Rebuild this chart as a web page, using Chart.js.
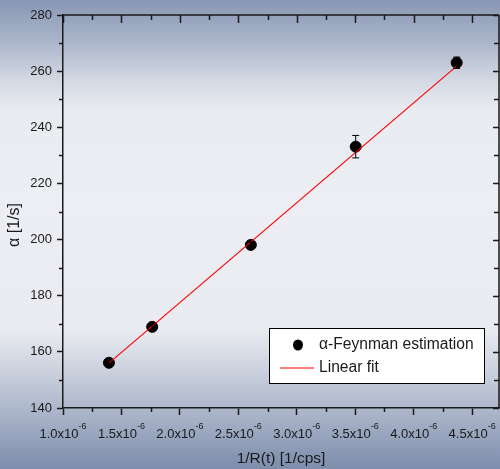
<!DOCTYPE html>
<html lang="en">
  <head>
    <meta charset="UTF-8" />
    <title>alpha-Feynman estimation vs 1/R(t)</title>
    <script src="https://cdn.jsdelivr.net/npm/chart.js"></script>
    <style>
      html,
      body {
        margin: 0;
        padding: 0;
      }
      body {
        width: 500px;
        height: 469px;
        overflow: hidden;
        background: linear-gradient(
          to bottom,
          #8897b4 0px,
          #a9b4c9 40px,
          #d3d8e3 80px,
          #e8ebf0 110px,
          #eceef3 200px,
          #e9ebf0 330px,
          #c4cbd9 380px,
          #a5b0c6 420px,
          #7c8cac 469px
        );
      }
      canvas {
        display: block;
      }
    </style>
  </head>
  <body>
    <canvas id="alphaChart" width="500" height="469"></canvas>
    <script>
      // values
      const invRate = [1.393e-6, 1.763e-6, 2.607e-6, 3.504e-6, 4.368e-6];
      const alpha = [156.1, 168.9, 198.1, 233.1, 263.0];
      const alphaErr = [1, 1, 1, 4, 2];

      // linear fit end points
      const fitX = [1.393e-6, 4.368e-6];
      const fitY = [156.0, 261.8];

      // tick labels (x in units of 1e-6)
      const xTicks = [1.0, 1.5, 2.0, 2.5, 3.0, 3.5, 4.0, 4.5];
      const yTicks = [140, 160, 180, 200, 220, 240, 260, 280];

      const ink = "#1a1a1a";
      const font = "'Liberation Sans', Arial, sans-serif";

      // minor ticks, top/right frame, x labels with exponent, titles, legend, error bars
      const framePlugin = {
        id: "frame",
        afterDatasetsDraw(chart) {
          const { ctx, scales } = chart;
          ctx.save();
          ctx.strokeStyle = "#000";
          ctx.lineWidth = 1;
          alphaErr.forEach((err, i) => {
            const x = scales.x.getPixelForValue(invRate[i]);
            const y1 = scales.y.getPixelForValue(alpha[i] - err);
            const y2 = scales.y.getPixelForValue(alpha[i] + err);
            ctx.beginPath();
            ctx.moveTo(x, y1);
            ctx.lineTo(x, y2);
            ctx.moveTo(x - 3.5, y1);
            ctx.lineTo(x + 3.5, y1);
            ctx.moveTo(x - 3.5, y2);
            ctx.lineTo(x + 3.5, y2);
            ctx.stroke();
          });
          ctx.restore();
        },
        afterDraw(chart) {
          const { ctx, chartArea: a, scales } = chart;
          const xs = scales.x;
          const ys = scales.y;
          ctx.save();
          ctx.strokeStyle = ink;
          ctx.lineWidth = 1.5;

          // top and right axis lines
          ctx.beginPath();
          ctx.moveTo(a.left, a.top);
          ctx.lineTo(a.right, a.top);
          ctx.moveTo(a.right, a.top);
          ctx.lineTo(a.right, a.bottom);
          ctx.stroke();

          ctx.beginPath();
          // x ticks: minor on bottom, major+minor on top (inward)
          for (let v = 1.0; v < 4.76; v += 0.25) {
            const px = Math.round(xs.getPixelForValue(v * 1e-6)) + 0.5;
            if (px > a.right - 1) continue;
            const major = Math.abs(v * 2 - Math.round(v * 2)) < 1e-6;
            if (!major) {
              ctx.moveTo(px, a.bottom);
              ctx.lineTo(px, a.bottom + 4);
            }
            ctx.moveTo(px, a.top);
            ctx.lineTo(px, a.top + (major ? 8 : 5));
          }
          // y ticks: minor on left, major+minor on right (inward)
          for (let v = 140; v <= 280; v += 10) {
            const py = Math.round(ys.getPixelForValue(v)) + 0.5;
            const major = v % 20 === 0;
            if (!major) {
              ctx.moveTo(a.left, py);
              ctx.lineTo(a.left - 4, py);
            }
            ctx.moveTo(a.right, py);
            ctx.lineTo(a.right - (major ? 6 : 5), py);
          }
          ctx.stroke();

          // x tick labels with superscript exponent
          ctx.fillStyle = ink;
          ctx.textBaseline = "alphabetic";
          xTicks.forEach((t) => {
            const px = xs.getPixelForValue(t * 1e-6);
            const base = t.toFixed(1) + "x10";
            const sup = "-6";
            ctx.font = "13px " + font;
            const wb = ctx.measureText(base).width;
            ctx.font = "9px " + font;
            const ws = ctx.measureText(sup).width;
            const x0 = px - (wb + ws) / 2;
            ctx.font = "13px " + font;
            ctx.textAlign = "left";
            ctx.fillText(base, x0, a.bottom + 30);
            ctx.font = "9px " + font;
            ctx.fillText(sup, x0 + wb, a.bottom + 21);
          });

          // axis titles
          ctx.font = "15.5px " + font;
          ctx.textAlign = "center";
          ctx.textBaseline = "middle";
          ctx.fillText("1/R(t) [1/cps]", (a.left + a.right) / 2, 459);
          ctx.save();
          ctx.translate(15, 225);
          ctx.rotate(-Math.PI / 2);
          ctx.font = "16px " + font;
          ctx.fillText("\u03b1 [1/s]", 0, 0);
          ctx.restore();

          // legend
          ctx.fillStyle = "#ffffff";
          ctx.fillRect(269.5, 328.5, 215, 55);
          ctx.strokeStyle = "#000";
          ctx.lineWidth = 1;
          ctx.strokeRect(269.5, 328.5, 215, 55);
          ctx.fillStyle = "#000";
          ctx.beginPath();
          ctx.ellipse(298, 345, 5, 5.5, 0, 0, Math.PI * 2);
          ctx.fill();
          ctx.strokeStyle = "#ff0000";
          ctx.beginPath();
          ctx.moveTo(280, 368);
          ctx.lineTo(314, 368);
          ctx.stroke();
          ctx.fillStyle = ink;
          ctx.textAlign = "left";
          ctx.font = "15.6px " + font;
          ctx.fillText(chart.data.datasets[0].label, 319, 345);
          ctx.fillText(chart.data.datasets[1].label, 319, 368);
          ctx.restore();
        },
      };

      const ctx = document.getElementById("alphaChart").getContext("2d");
      new Chart(ctx, {
        data: {
          datasets: [
            {
              type: "scatter",
              label: "\u03b1-Feynman estimation",
              data: invRate.map((x, i) => ({ x: x, y: alpha[i] })),
              backgroundColor: "#000",
              borderColor: "#000",
              pointRadius: 5.5,
              pointHoverRadius: 5.5,
              order: 1,
            },
            {
              type: "line",
              label: "Linear fit",
              data: fitX.map((x, i) => ({ x: x, y: fitY[i] })),
              borderColor: "#ff0000",
              borderWidth: 1.2,
              pointRadius: 0,
              fill: false,
              order: 0,
            },
          ],
        },
        options: {
          responsive: false,
          animation: false,
          layout: {
            autoPadding: false,
            padding: { top: 15, right: 1, left: 0, bottom: 0 },
          },
          plugins: {
            legend: { display: false },
            tooltip: { enabled: false },
          },
          scales: {
            x: {
              type: "linear",
              min: 1.0e-6,
              max: 4.73e-6,
              afterBuildTicks: (scale) => {
                scale.ticks = xTicks.map((t) => ({ value: t * 1e-6 }));
              },
              afterFit: (scale) => {
                scale.height = 61;
                scale.paddingLeft = 0;
                scale.paddingRight = 0;
              },
              ticks: { display: false },
              border: { display: true, color: ink, width: 1.5 },
              grid: {
                drawOnChartArea: false,
                tickLength: 7,
                tickColor: ink,
                tickWidth: 1.5,
              },
            },
            y: {
              min: 140,
              max: 280,
              afterBuildTicks: (scale) => {
                scale.ticks = yTicks.map((t) => ({ value: t }));
              },
              afterFit: (scale) => {
                scale.width = 63;
              },
              ticks: {
                color: ink,
                padding: 5,
                font: { family: font, size: 13 },
              },
              border: { display: true, color: ink, width: 1.5 },
              grid: {
                drawOnChartArea: false,
                tickLength: 6,
                tickColor: ink,
                tickWidth: 1.5,
              },
            },
          },
        },
        plugins: [framePlugin],
      });
    </script>
  </body>
</html>
